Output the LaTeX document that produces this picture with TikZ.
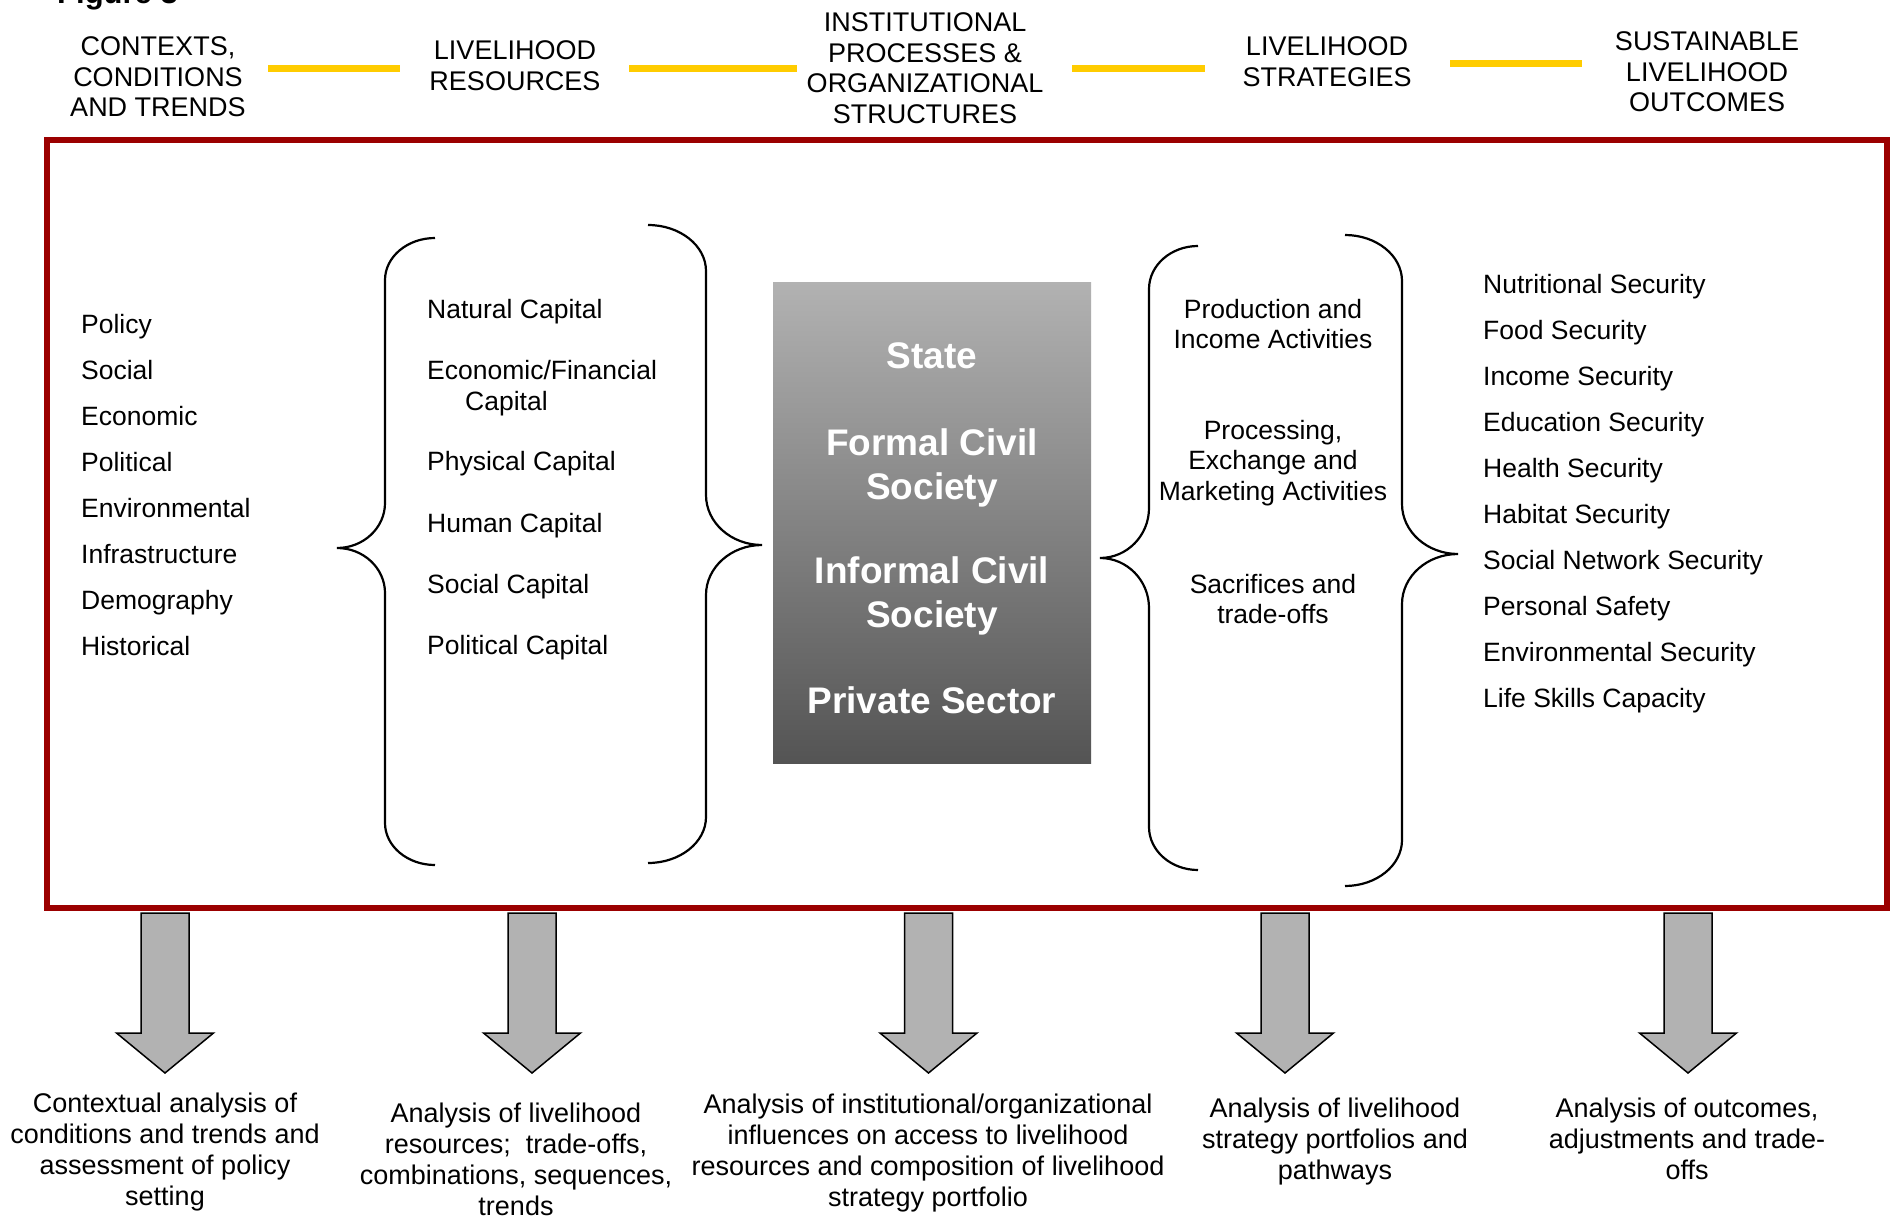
\documentclass[tikz,border=0pt]{standalone}
\usepackage{fontspec}
\setmainfont{Liberation Sans}
\definecolor{framered}{RGB}{155,0,0}
\definecolor{baryellow}{RGB}{255,204,0}
\definecolor{arrowgray}{RGB}{178,178,178}
\definecolor{boxtop}{RGB}{178,178,178}
\definecolor{boxbot}{RGB}{84,84,84}
\tikzset{
  head/.style={font=\fontsize{27}{30.5}\selectfont, align=center, anchor=base, inner sep=0pt},
  item/.style={font=\fontsize{26.5}{31}\selectfont, anchor=base west, inner sep=0pt},
  strat/.style={font=\fontsize{26.5}{30.7}\selectfont, align=center, anchor=base, inner sep=0pt},
  inst/.style={font=\bfseries\fontsize{37}{44}\selectfont, text=white, align=center, anchor=base, inner sep=0pt},
  note/.style={font=\fontsize{27}{31}\selectfont, align=center, anchor=base, inner sep=0pt},
  bar/.style={draw=baryellow, line width=7pt},
  frame/.style={draw=framered, line width=6pt},
  bracket/.style={draw=black, line width=2.2pt},
  blockarrow/.style={draw=black, line width=1.5pt, fill=arrowgray, line join=miter},
}
% #1 end x, #2 vertical x, #3 tip x, #4 top y, #5 tip y, #6 bottom y, #7 end radius, #8 tip radius
\newcommand{\mycurly}[8]{%
  \draw[bracket] (#1,#4) .. controls ({#1+0.552*(#2-#1)},#4) and (#2,{#4+0.448*#7}) .. (#2,{#4+#7})
    -- (#2,{#5-#8}) .. controls (#2,{#5-0.448*#8}) and ({#3+0.552*(#2-#3)},#5) .. (#3,#5)
    .. controls ({#3+0.552*(#2-#3)},#5) and (#2,{#5+0.448*#8}) .. (#2,{#5+#8})
    -- (#2,{#6-#7}) .. controls (#2,{#6-0.448*#7}) and ({#1+0.552*(#2-#1)},#6) .. (#1,#6);}
\begin{document}
\begin{tikzpicture}[x=1pt,y=-1pt]
\useasboundingbox (0,0) rectangle (1898,1217);
\fill[white] (0,0) rectangle (1898,1217);

% cut-off title
\node[anchor=base west, inner sep=0pt, font=\bfseries\fontsize{31}{31}\selectfont] (fig) at (57,4) {Figure 3};

% headings (anchor = baseline of last line)
\node[head] (h1) at (158,117) {CONTEXTS,\\CONDITIONS\\AND TRENDS};
\node[head] (h2) at (515,90.5) {LIVELIHOOD\\RESOURCES};
\node[head] (h3) at (925,123.5) {INSTITUTIONAL\\PROCESSES \&\\ORGANIZATIONAL\\STRUCTURES};
\node[head] (h4) at (1327,86.5) {LIVELIHOOD\\STRATEGIES};
\node[head] (h5) at (1707,112) {SUSTAINABLE\\LIVELIHOOD\\OUTCOMES};

% yellow bars
\coordinate (y1a) at (268,69);  \coordinate (y1b) at (400,69);
\coordinate (y2a) at (629,69);  \coordinate (y2b) at (797,69);
\coordinate (y3a) at (1072,69); \coordinate (y3b) at (1205,69);
\coordinate (y4a) at (1450,64); \coordinate (y4b) at (1582,64);
\draw[bar] (y1a) -- (y1b);
\draw[bar] (y2a) -- (y2b);
\draw[bar] (y3a) -- (y3b);
\draw[bar] (y4a) -- (y4b);

% main frame
\draw[frame] (47,140) rectangle (1887,908);

% contexts
\foreach \t [count=\i from 0] in {Policy,Social,Economic,Political,Environmental,Infrastructure,Demography,Historical}
  \node[item] (c\i) at (81,{333+46*\i}) {\t};

% resources
\mycurly{435}{385}{337}{238}{548}{865}{42}{45}
\node[item] (r1) at (427,318) {Natural Capital};
\node[item, align=left] (r2) at (427,410) {Economic/Financial\\\hspace*{38pt}Capital};
\node[item] (r3) at (427,470) {Physical Capital};
\node[item] (r4) at (427,532) {Human Capital};
\node[item] (r5) at (427,593) {Social Capital};
\node[item] (r6) at (427,654) {Political Capital};
\mycurly{648}{706}{762}{225}{545}{863}{46}{50}

% institutions
\node[minimum width=318pt, minimum height=481pt, inner sep=0pt, top color=boxtop, bottom color=boxbot] (inst) at (932,522.5) {};
\node[inst] (s1) at (932,368) {State};
\node[inst] (s2) at (932,499) {Formal Civil\\Society};
\node[inst] (s3) at (932,627) {Informal Civil\\Society};
\node[inst] (s4) at (932,713) {Private Sector};

% strategies
\mycurly{1198}{1149}{1100}{246}{558}{870}{43}{50}
\node[strat] (p1) at (1273,348.7) {Production and\\Income Activities};
\node[strat] (p2) at (1273,500.4) {Processing,\\Exchange and\\Marketing Activities};
\node[strat] (p3) at (1273,623.7) {Sacrifices and\\trade-offs};
\mycurly{1345}{1402}{1458}{235}{554}{886}{46}{50}

% outcomes
\foreach \t [count=\i from 0] in {Nutritional Security,Food Security,Income Security,Education Security,Health Security,Habitat Security,Social Network Security,Personal Safety,Environmental Security,Life Skills Capacity}
  \node[item] (o\i) at (1483,{293+46*\i}) {\t};

% block arrows
\foreach \x [count=\i] in {165,532,928.5,1285,1688} {
  \coordinate (a\i) at (\x,913);
  \draw[blockarrow, shift={(a\i)}] (-24,0) -- (24,0) -- (24,120) -- (48.5,120) -- (0,160) -- (-48.5,120) -- (-24,120) -- cycle;
}

% analyses (anchor = baseline of last line)
\node[note] (n1) at (165,1205) {Contextual analysis of\\conditions and trends and\\assessment of policy\\setting};
\node[note] (n2) at (516,1215.5) {Analysis of livelihood\\resources;\ \ trade-offs,\\combinations, sequences,\\trends};
\node[note] (n3) at (928,1206) {Analysis of institutional/organizational\\influences on access to livelihood\\resources and composition of livelihood\\strategy portfolio};
\node[note] (n4) at (1335,1179) {Analysis of livelihood\\strategy portfolios and\\pathways};
\node[note] (n5) at (1687,1179) {Analysis of outcomes,\\adjustments and trade-\\offs};
\end{tikzpicture}
\end{document}
